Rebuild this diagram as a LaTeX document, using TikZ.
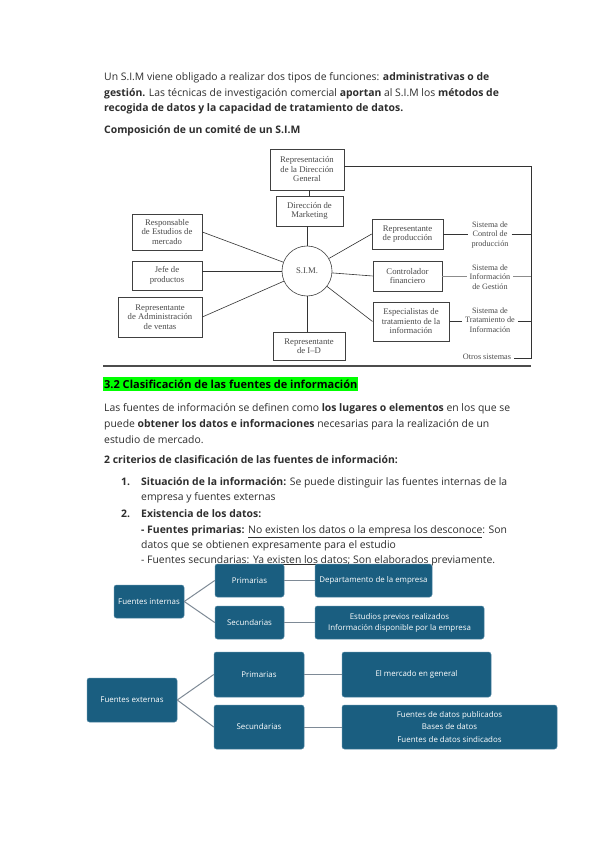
\documentclass[tikz,border=0pt]{standalone}
\usepackage{fontspec}
\setmainfont{Open Sans}
\newfontfamily\simserif{Liberation Serif}
\usetikzlibrary{calc}
\definecolor{txt}{HTML}{2E2E2E}
\definecolor{simtxt}{HTML}{4A4A4A}
\definecolor{accentblue}{HTML}{1A5E80}
\definecolor{accentedge}{HTML}{4F86A3}
\definecolor{linkgray}{HTML}{7E8A96}
\definecolor{hlgreen}{HTML}{00FF00}
\begin{document}
\begin{tikzpicture}[x=1pt,y=-1pt,
  body/.style={anchor=base west,inner sep=0pt,text=txt,font=\fontsize{10.4}{12}\selectfont},
  sbox/.style={draw=black!75,line width=0.6pt,fill=white,align=center,text=simtxt,
     font=\simserif\fontsize{8.7}{9.5}\selectfont,inner sep=1pt},
  slabel/.style={align=center,text=simtxt,font=\simserif\fontsize{8.2}{9.2}\selectfont,inner sep=3pt},
  sline/.style={draw=black!80,line width=0.6pt},
  fbox/.style={fill=accentblue,draw=accentedge,line width=0.5pt,rounded corners=2.5pt,
     text=white,align=center,font=\fontsize{7.9}{11}\selectfont,inner sep=1pt},
  flink/.style={draw=linkgray,line width=1pt}]
\useasboundingbox (0,0) rectangle (599,848);
\fill[white] (0,0) rectangle (599,848);

% ---------- top text ----------
\node[body] (t1) at (104,80.5) {Un S.I.M viene obligado a realizar dos tipos de funciones: \textbf{administrativas o de}};
\node[body] (t2) at (104,96.5) {\textbf{gestión.} Las técnicas de investigación comercial \textbf{aportan} al S.I.M los \textbf{métodos de}};
\node[body] (t3) at (104,111.5) {\textbf{recogida de datos y la capacidad de tratamiento de datos.}};
\node[body] (t4) at (104,133.5) {\textbf{Composición de un comité de un S.I.M}};

% ---------- SIM diagram ----------
\node[sbox,minimum width=74pt,minimum height=41pt] (repdg) at (307,169.5) {Representación\\de la Dirección\\General};
\node[sbox,minimum width=67pt,minimum height=30pt] (dirmk) at (309.5,211) {Dirección de\\Marketing};
\node[draw=black!75,line width=0.6pt,circle,minimum size=50pt,inner sep=0pt,text=simtxt,
      font=\simserif\fontsize{8.7}{9}\selectfont] (sim) at (307,271) {S.I.M.};
\node[sbox,minimum width=70pt,minimum height=36pt] (resp) at (167,232) {Responsable\\de Estudios de\\mercado};
\node[sbox,minimum width=70pt,minimum height=29pt] (jefe) at (167,275.5) {Jefe de\\productos};
\node[sbox,minimum width=84pt,minimum height=40pt] (repadm) at (160,317) {Representante\\de Administración\\de ventas};
\node[sbox,minimum width=72pt,minimum height=28pt] (repid) at (309,346) {Representante\\de I–D};
\node[sbox,minimum width=71pt,minimum height=30pt] (repprod) at (407.5,234) {Representante\\de producción};
\node[sbox,minimum width=69pt,minimum height=30pt] (contr) at (407.5,276) {Controlador\\financiero};
\node[sbox,line width=1pt,minimum width=76pt,minimum height=39pt] (espec) at (411,321.5) {Especialistas de\\tratamiento de la\\información};

\node[slabel] (scp) at (490,235) {Sistema de\\Control de\\producción};
\node[slabel] (sig) at (490,277) {Sistema de\\Información\\de Gestión};
\node[slabel] (sti) at (490,320) {Sistema de\\Tratamiento de\\Información};
\node[slabel] (otros) at (487,356.5) {Otros sistemas};

\coordinate (brtop) at (531,166);
\coordinate (brbot) at (531,358);

\draw[sline] (repdg.south -| dirmk.north) -- (dirmk.north);
\draw[sline] (sim.north |- dirmk.south) -- (sim.north);
\draw[sline] (sim.south) -- (sim.south |- repid.north);
\draw[sline] (sim) -- (resp.east);
\draw[sline] (sim) -- (jefe.east |- sim);
\draw[sline] (sim) -- (repadm.east);
\draw[sline] (sim) -- (repprod.west);
\draw[sline] (sim) -- (contr.west);
\draw[sline] (sim) -- (espec.west);

\draw[sline] (repdg.east |- brtop) -- (brtop) -- (brbot) -- (otros.east |- brbot);
\draw[sline] (repprod.east) -- (scp.west |- repprod.east);
\draw[sline] (scp.east |- repprod.east) -- (brtop |- repprod.east);
\draw[draw=black!45,line width=0.5pt] (contr.east) -- (sig.west |- contr.east);
\draw[draw=black!45,line width=0.5pt] (sig.east |- contr.east) -- (brtop |- contr.east);
\draw[sline] (espec.east) -- (sti.west |- espec.east);
\draw[sline] (sti.east |- espec.east) -- (brtop |- espec.east);

\coordinate (rulea) at (103,366);
\coordinate (ruleb) at (531,366);
\draw[draw=black!70,line width=1.4pt] (rulea) -- (ruleb);

% ---------- section ----------
\node[anchor=base west,fill=hlgreen,inner xsep=1pt,inner ysep=2.5pt,text=black,
      font=\bfseries\fontsize{11}{12}\selectfont] (sec) at (103,388) {3.2 Clasificación de las fuentes de información};

\node[body] (p1) at (104,411.5) {Las fuentes de información se definen como \textbf{los lugares o elementos} en los que se};
\node[body] (p2) at (104,427.5) {puede \textbf{obtener los datos e informaciones} necesarias para la realización de un};
\node[body] (p3) at (104,443) {estudio de mercado.};
\node[body] (p4) at (104,463.5) {\textbf{2 criterios de clasificación de las fuentes de información:}};

\node[body] (n1) at (121,485) {\textbf{1.}};
\node[body] (l1) at (141,485) {\textbf{Situación de la información:} Se puede distinguir las fuentes internas de la};
\node[body] (l2) at (141,500.5) {empresa y fuentes externas};
\node[body] (n2) at (121,517) {\textbf{2.}};
\node[body] (l3) at (141,517) {\textbf{Existencia de los datos:}};
\node[body] (l4) at (141,533) {\textbf{- Fuentes primarias:} \underline{No existen los datos o la empresa los desconoce}: Son};
\node[body] (l5) at (141,548.5) {datos que se obtienen expresamente para el estudio};
\node[body] (l6) at (141,563) {- Fuentes secundarias: \underline{Ya existen los datos}; Son elaborados previamente.};

% ---------- fuentes internas ----------
\node[fbox,minimum width=70pt,minimum height=33pt] (fint) at (149,601.5) {Fuentes internas};
\node[fbox,minimum width=69pt,minimum height=33pt] (pi) at (249.5,580.5) {Primarias};
\node[fbox,minimum width=69pt,minimum height=33pt] (si) at (249.5,622.5) {Secundarias};
\node[fbox,minimum width=117pt,minimum height=33pt] (dep) at (373.5,580.5) {Departamento de la empresa};
\node[fbox,minimum width=169pt,minimum height=33pt] (est) at (399.5,622.5) {Estudios previos realizados\\Información disponible por la empresa};
\draw[flink] (fint.east) -- (pi.west);
\draw[flink] (fint.east) -- (si.west);
\draw[flink] (pi.east) -- (dep.west);
\draw[flink] (si.east) -- (est.west);

% ---------- fuentes externas ----------
\node[fbox,minimum width=90pt,minimum height=44pt] (fext) at (132,700) {Fuentes externas};
\node[fbox,minimum width=90pt,minimum height=45pt] (pe) at (259,674.5) {Primarias};
\node[fbox,minimum width=90pt,minimum height=44pt] (se) at (259,727) {Secundarias};
\node[fbox,minimum width=149pt,minimum height=45pt] (merc) at (416.5,674.5) {El mercado en general};
\node[fbox,minimum width=215pt,minimum height=44pt,font=\fontsize{7.9}{12.5}\selectfont] (fdat) at (449.5,727) {Fuentes de datos publicados\\Bases de datos\\Fuentes de datos sindicados};
\draw[flink] (fext.east) -- (pe.west);
\draw[flink] (fext.east) -- (se.west);
\draw[flink] (pe.east) -- (merc.west);
\draw[flink] (se.east) -- (fdat.west);
\end{tikzpicture}
\end{document}
